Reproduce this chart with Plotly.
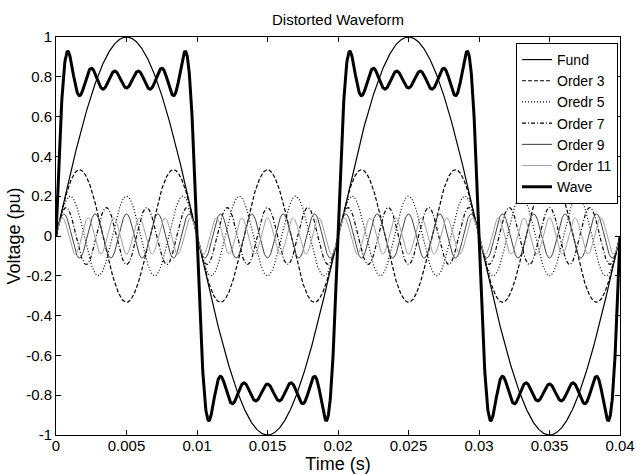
import numpy as np
import plotly.graph_objects as go

# harmonic content (50 Hz fundamental)
freq = 50.0
names = ["Fund", "Order 3", "Oredr 5", "Order 7", "Order 9", "Order 11"]
orders = [1, 3, 5, 7, 9, 11]
amps = [1.0, 0.333, 0.2, 0.143, 0.111, 0.091]

x_ticks = [0, 0.005, 0.01, 0.015, 0.02, 0.025, 0.03, 0.035, 0.04]
x_labels = ["0", "0.005", "0.01", "0.015", "0.02", "0.025", "0.03", "0.035", "0.04"]
y_ticks = [-1, -0.8, -0.6, -0.4, -0.2, 0, 0.2, 0.4, 0.6, 0.8, 1]
y_labels = ["-1", "-0.8", "-0.6", "-0.4", "-0.2", "0", "0.2", "0.4", "0.6", "0.8", "1"]

t = np.linspace(0, 0.04, 2001)

styles = [
    dict(color="black", width=1.2, dash="solid"),
    dict(color="black", width=1.2, dash="4px,2px"),
    dict(color="black", width=1.2, dash="1px,2px"),
    dict(color="black", width=1.2, dash="4px,2px,1px,2px"),
    dict(color="#404040", width=1, dash="solid"),
    dict(color="#a0a0a0", width=1, dash="solid"),
]

fig = go.Figure()
wave = np.zeros_like(t)
for name, n, a, st in zip(names, orders, amps, styles):
    y = a * np.sin(2 * np.pi * freq * n * t)
    wave = wave + y
    fig.add_trace(go.Scatter(x=t, y=y, mode="lines", name=name, line=st))

fig.add_trace(go.Scatter(x=t, y=wave, mode="lines", name="Wave",
                         line=dict(color="black", width=3)))

axis_common = dict(
    showgrid=False, zeroline=False, showline=True, linecolor="black", linewidth=1,
    mirror="ticks", ticks="inside", ticklen=5, tickcolor="black", automargin=False,
    tickfont=dict(size=15, color="black"),
)

fig.update_layout(
    width=636, height=474,
    margin=dict(l=56, r=16, t=37, b=39),
    paper_bgcolor="white", plot_bgcolor="white",
    font=dict(family="Liberation Sans, Arial, sans-serif", size=15, color="black"),
    title=dict(text="Distorted Waveform", xref="paper", x=0.5, xanchor="center",
               y=0.958, yanchor="middle", font=dict(size=15)),
    xaxis=dict(range=[0, 0.04], tickvals=x_ticks, ticktext=x_labels, ticklabelstandoff=-3,
               title=dict(text="Time (s)", standoff=5), **axis_common),
    yaxis=dict(range=[-1, 1], tickvals=y_ticks, ticktext=y_labels, ticklabelstandoff=0,
               title=dict(text="Voltage (pu)", standoff=0), **axis_common),
    legend=dict(x=0.9965, y=0.985, xanchor="right", yanchor="top",
                bgcolor="white", bordercolor="black", borderwidth=1,
                font=dict(size=14), tracegroupgap=0, itemwidth=30),
)

fig.write_html("out.html", config={"displayModeBar": False},
               post_script="document.body.style.margin='0';")
